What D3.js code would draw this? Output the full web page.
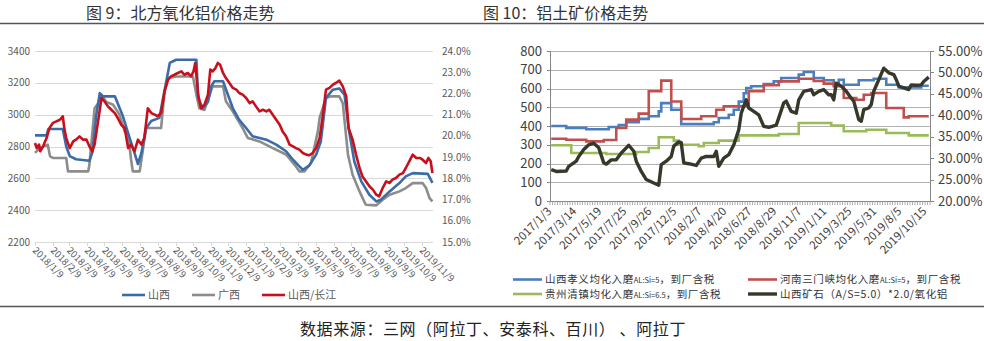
<!DOCTYPE html>
<html><head><meta charset="utf-8">
<script src="https://cdn.jsdelivr.net/npm/d3@7/dist/d3.min.js"></script>
<style>
body{margin:0;background:#fff}
svg{display:block}
text{font-family:"Noto Sans CJK SC","Noto Sans",sans-serif}
</style></head>
<body><svg id="c" width="984" height="341"></svg>
<script>
// ---------- Chart 9 data ----------
const title9 = "图 9：北方氧化铝价格走势";
const series9Names = ["山西", "广西", "山西/长江"];
const xTicks9 = ["2018/1/9","2018/2/9","2018/3/9","2018/4/9","2018/5/9","2018/6/9","2018/7/9","2018/8/9","2018/9/9","2018/10/9","2018/11/9","2018/12/9","2019/1/9","2019/2/9","2019/3/9","2019/4/9","2019/5/9","2019/6/9","2019/7/9","2019/8/9","2019/9/9","2019/10/9","2019/11/9"];
const yTicksLeft9 = [2200,2400,2600,2800,3000,3200,3400];
const yTicksRight9 = [0.15,0.16,0.17,0.18,0.19,0.20,0.21,0.22,0.23,0.24];
const shanxi9 = [["2018-01-09",2870],["2018-01-29",2870],["2018-02-01",2910],["2018-02-26",2910],["2018-03-04",2800],["2018-03-10",2740],["2018-03-21",2720],["2018-04-13",2710],["2018-04-18",2760],["2018-04-25",3000],["2018-05-01",3135],["2018-05-06",3115],["2018-05-27",3115],["2018-06-10",2990],["2018-06-21",2860],["2018-06-30",2760],["2018-07-06",2690],["2018-07-12",2760],["2018-07-20",2915],["2018-07-29",2960],["2018-08-12",2980],["2018-08-24",3210],["2018-08-30",3325],["2018-09-10",3345],["2018-10-15",3345],["2018-10-18",3105],["2018-10-26",3040],["2018-11-04",3080],["2018-11-10",3180],["2018-11-15",3210],["2018-11-30",3210],["2018-12-03",3180],["2018-12-17",3040],["2018-12-28",2968],["2019-01-09",2916],["2019-01-20",2864],["2019-02-13",2843],["2019-03-02",2812],["2019-03-19",2770],["2019-03-31",2717],["2019-04-11",2675],["2019-04-17",2654],["2019-04-28",2680],["2019-05-10",2749],["2019-05-18",2830],["2019-05-27",3105],["2019-06-08",3157],["2019-06-19",3165],["2019-06-28",3125],["2019-07-06",2895],["2019-07-15",2706],["2019-07-27",2581],["2019-08-10",2497],["2019-08-22",2455],["2019-08-30",2466],["2019-09-14",2518],["2019-10-01",2570],["2019-10-12",2612],["2019-10-24",2633],["2019-11-19",2628],["2019-11-27",2571]];
const guangxi9 = [["2018-01-09",2760],["2018-01-17",2790],["2018-01-31",2812],["2018-02-04",2738],["2018-02-09",2728],["2018-03-04",2728],["2018-03-07",2644],["2018-04-11",2644],["2018-04-13",2685],["2018-04-22",3040],["2018-04-28",3070],["2018-05-04",3126],["2018-05-12",3080],["2018-05-24",3063],["2018-06-04",3000],["2018-06-13",2895],["2018-06-19",2880],["2018-06-24",2720],["2018-06-27",2644],["2018-07-09",2644],["2018-07-15",2790],["2018-07-20",2916],["2018-08-15",2916],["2018-08-21",3147],["2018-08-27",3230],["2018-09-10",3240],["2018-10-09",3240],["2018-10-15",3126],["2018-10-20",3040],["2018-10-29",3030],["2018-11-07",3126],["2018-11-12",3178],["2018-11-30",3178],["2018-12-05",3084],["2018-12-17",3020],["2019-01-03",2916],["2019-01-12",2853],["2019-02-01",2832],["2019-02-24",2790],["2019-03-19",2750],["2019-04-05",2675],["2019-04-11",2644],["2019-04-20",2644],["2019-05-01",2696],["2019-05-13",2895],["2019-05-16",2980],["2019-05-27",3105],["2019-06-05",3115],["2019-06-19",3115],["2019-06-25",3073],["2019-07-04",2750],["2019-07-12",2623],["2019-07-24",2518],["2019-08-01",2455],["2019-08-04",2434],["2019-08-22",2430],["2019-09-02",2466],["2019-09-14",2497],["2019-10-01",2518],["2019-10-12",2539],["2019-10-24",2570],["2019-11-10",2570],["2019-11-16",2539],["2019-11-22",2476],["2019-11-27",2455]];
const changjiang9 = [["2018-01-09",2822],["2018-01-12",2790],["2018-01-16",2812],["2018-01-18",2770],["2018-01-23",2801],["2018-01-29",2853],["2018-02-03",2916],["2018-02-09",2948],["2018-02-15",2958],["2018-02-21",2968],["2018-02-26",2990],["2018-03-01",2906],["2018-03-04",2853],["2018-03-10",2790],["2018-03-16",2832],["2018-03-21",2843],["2018-03-27",2864],["2018-04-02",2843],["2018-04-08",2843],["2018-04-13",2801],["2018-04-18",2770],["2018-04-22",2812],["2018-04-28",2958],["2018-05-04",3105],["2018-05-09",3084],["2018-05-15",3052],["2018-05-21",3031],["2018-05-27",3010],["2018-06-01",2979],["2018-06-07",2937],["2018-06-13",2916],["2018-06-19",2790],["2018-06-24",2812],["2018-06-30",2770],["2018-07-06",2843],["2018-07-12",2812],["2018-07-17",2853],["2018-07-23",3040],["2018-07-29",3010],["2018-08-04",3000],["2018-08-09",2990],["2018-08-15",3010],["2018-08-21",3147],["2018-08-27",3220],["2018-09-01",3241],["2018-09-07",3251],["2018-09-13",3262],["2018-09-19",3272],["2018-09-24",3251],["2018-09-30",3262],["2018-10-06",3241],["2018-10-10",3272],["2018-10-13",3325],["2018-10-18",3126],["2018-10-23",3040],["2018-10-29",3063],["2018-11-04",3126],["2018-11-08",3283],["2018-11-12",3272],["2018-11-17",3293],["2018-11-21",3325],["2018-11-25",3314],["2018-11-30",3262],["2018-12-05",3230],["2018-12-11",3199],["2018-12-17",3168],["2018-12-23",3157],["2018-12-28",3136],["2019-01-03",3126],["2019-01-09",3105],["2019-01-15",3073],["2019-01-20",3084],["2019-01-26",3052],["2019-02-01",3021],["2019-02-07",3031],["2019-02-13",3021],["2019-02-18",3031],["2019-02-24",3000],["2019-03-02",2968],["2019-03-08",2937],["2019-03-13",2895],["2019-03-19",2864],["2019-03-25",2812],["2019-03-31",2801],["2019-04-05",2790],["2019-04-11",2780],["2019-04-17",2759],["2019-04-23",2749],["2019-04-28",2745],["2019-05-04",2759],["2019-05-10",2790],["2019-05-16",2853],["2019-05-21",2979],["2019-05-27",3157],["2019-06-02",3168],["2019-06-08",3189],["2019-06-13",3199],["2019-06-19",3214],["2019-06-25",3178],["2019-07-01",3115],["2019-07-05",2916],["2019-07-12",2843],["2019-07-18",2749],["2019-07-24",2665],["2019-07-29",2612],["2019-08-04",2581],["2019-08-10",2550],["2019-08-16",2529],["2019-08-22",2497],["2019-08-27",2487],["2019-09-02",2539],["2019-09-08",2581],["2019-09-14",2571],["2019-09-19",2592],["2019-09-25",2602],["2019-10-01",2623],["2019-10-07",2633],["2019-10-12",2665],["2019-10-18",2707],["2019-10-24",2749],["2019-10-30",2728],["2019-11-05",2728],["2019-11-10",2717],["2019-11-16",2696],["2019-11-20",2728],["2019-11-24",2707],["2019-11-27",2633]];

// ---------- Chart 10 data ----------
const title10 = "图 10：铝土矿价格走势";
const nCategories10 = 152;
const xTickLabels10 = ["2017/1/3","2017/3/14","2017/5/19","2017/7/25","2017/9/26","2017/12/5","2018/2/7","2018/4/20","2018/6/27","2018/8/29","2018/11/7","2019/1/11","2019/3/25","2019/5/31","2019/8/5","2019/10/15"];
const xTickIndex10 = [0,10,20,30,40,50,60,70,80,90,100,110,120,130,140,150];
const yTicksLeft10 = [0,100,200,300,400,500,600,700,800];
const yTicksRight10 = [0.20,0.25,0.30,0.35,0.40,0.45,0.50,0.55];
const series10Names = ["山西孝义均化入磨|AL:Si=5|，到厂含税","河南三门峡均化入磨|AL:Si=5|，到厂含税","贵州清镇均化入磨|AL:Si=6.5|，到厂含税","山西矿石（A/S=5.0）*2.0/氧化铝"];
const xiaoyi10 = [[0,400],[6,390],[14,383],[23,395],[27,405],[30,420],[35,438],[39,452],[43,478],[44,522],[48,487],[52,410],[65,420],[67,443],[71,460],[73,487],[75,530],[77,575],[78,603],[80,612],[85,624],[89,638],[92,656],[99,674],[101,688],[105,656],[109,644],[113,620],[115,647],[117,620],[123,644],[129,652],[134,620],[139,606],[148,615],[151,615]];
const sanmenxia10 = [[0,332],[6,327],[14,318],[21,325],[26,389],[30,434],[35,466],[39,585],[44,642],[48,531],[52,437],[60,452],[66,487],[69,505],[79,585],[85,617],[91,638],[99,652],[105,640],[109,626],[113,612],[117,549],[122,540],[125,567],[128,576],[134,496],[141,446],[143,452],[151,452]];
const qingzhen10 = [[0,297],[8,256],[22,251],[34,261],[39,283],[43,340],[49,322],[51,300],[59,292],[61,309],[67,322],[75,350],[91,357],[99,416],[112,403],[117,372],[126,380],[134,363],[143,350],[151,350]];
const ratio10 = [[0,27.3],[2,26.9],[6,27.0],[7,28.1],[10,29.3],[11,30.4],[13,32.0],[15,33.1],[17,33.5],[19,32.4],[21,28.9],[22,28.6],[24,29.6],[26,29.6],[28,31.2],[30,32.4],[31,33.0],[33,31.6],[34,29.3],[36,26.9],[38,25.0],[41,24.2],[43,23.7],[44,28.5],[46,29.3],[48,30.4],[49,32.8],[51,33.8],[52,33.6],[53,28.9],[55,28.7],[58,28.3],[60,30.0],[62,30.4],[65,30.4],[66,31.6],[67,28.1],[69,30.0],[71,30.8],[73,33.1],[75,36.6],[76,40.5],[77,42.1],[78,43.6],[79,41.7],[81,40.9],[83,40.1],[85,37.4],[87,37.2],[90,37.7],[91,39.4],[93,42.9],[94,43.3],[96,40.9],[98,40.5],[99,43.6],[101,45.6],[104,46.0],[105,44.8],[107,45.6],[109,46.0],[111,44.8],[112,44.8],[113,43.6],[114,47.5],[116,46.8],[118,45.6],[120,44.0],[121,43.3],[123,39.0],[124,38.6],[125,41.3],[127,41.7],[128,42.5],[129,45.6],[131,48.3],[133,51.0],[135,49.9],[137,49.5],[138,48.3],[139,46.8],[141,46.4],[143,46.0],[144,47.1],[146,47.0],[148,47.1],[149,47.9],[151,48.9]];

const sourceText = "数据来源：三网（阿拉丁、安泰科、百川） 、阿拉丁";

// ---------- Drawing ----------
const svg = d3.select("#c");
const parse = d3.timeParse("%Y-%m-%d");
const parseTick = d3.timeParse("%Y/%m/%d");

svg.append("line").attr("x1",0).attr("x2",984).attr("y1",23.5).attr("y2",23.5).attr("stroke","#555").attr("stroke-width",1.6);
svg.append("line").attr("x1",0).attr("x2",984).attr("y1",306.5).attr("y2",306.5).attr("stroke","#555").attr("stroke-width",1.6);
svg.append("text").attr("x",86).attr("y",19).attr("font-size",16).attr("fill","#333").text(title9);
svg.append("text").attr("x",483).attr("y",19).attr("font-size",16).attr("fill","#333").text(title10);
svg.append("text").attr("x",493).attr("y",335).attr("text-anchor","middle").attr("font-size",16).attr("letter-spacing",0.6).attr("fill","#222").text(sourceText);

// ===== Chart 9 =====
const g9 = svg.append("g");
const x9 = d3.scaleTime().domain([parse("2018-01-09"), parse("2019-11-28")]).range([35,433]);
const yL9 = d3.scaleLinear().domain([2200,3400]).range([242,51]);
const yR9 = d3.scaleLinear().domain([0.15,0.24]).range([242,51]);

g9.append("g").selectAll("line").data(yTicksLeft9).join("line")
  .attr("x1",35).attr("x2",433).attr("y1",d=>Math.round(yL9(d))+0.5).attr("y2",d=>Math.round(yL9(d))+0.5)
  .attr("stroke","#d9d9d9").attr("stroke-width",1);
g9.append("g").selectAll("text").data(yTicksLeft9).join("text")
  .attr("x",30).attr("y",d=>yL9(d)+3.5).attr("text-anchor","end").attr("font-size",10).attr("fill","#595959").text(d=>d);
g9.append("g").selectAll("text").data(yTicksRight9).join("text")
  .attr("x",442).attr("y",d=>yR9(d)+3.5).attr("font-size",10).attr("fill","#595959").text(d=>d3.format(".1%")(d));
const tickDates9 = xTicks9.map(parseTick);
g9.append("g").selectAll("line").data(tickDates9).join("line")
  .attr("x1",d=>Math.round(x9(d))+0.5).attr("x2",d=>Math.round(x9(d))+0.5).attr("y1",242).attr("y2",246)
  .attr("stroke","#d9d9d9");
g9.append("g").selectAll("text").data(xTicks9).join("text")
  .attr("transform",d=>`translate(${x9(parseTick(d))-3},251) rotate(45)`)
  .attr("font-size",9.5).attr("fill","#595959").text(d=>d);

const line9 = d3.line().x(d=>x9(parse(d[0]))).y(d=>yL9(d[1]));
const cols9 = ["#3c6ca8","#8c8c8c","#c8101c"];
[[guangxi9,cols9[1]],[shanxi9,cols9[0]],[changjiang9,cols9[2]]].forEach(([s,c])=>{
  g9.append("path").datum(s).attr("d",line9).attr("fill","none").attr("stroke",c).attr("stroke-width",2.6).attr("stroke-linejoin","round");
});
const leg9x = [122,192,262];
series9Names.forEach((n,i)=>{
  g9.append("line").attr("x1",leg9x[i]).attr("x2",leg9x[i]+23).attr("y1",295).attr("y2",295).attr("stroke",cols9[i]).attr("stroke-width",2.6);
  g9.append("text").attr("x",leg9x[i]+26).attr("y",299).attr("font-size",11).attr("fill","#595959").text(n);
});

// ===== Chart 10 =====
const g10 = svg.append("g");
const x10 = d3.scaleLinear().domain([0,nCategories10]).range([550,930]);
const yL10 = d3.scaleLinear().domain([0,800]).range([201,51]);
const yR10 = d3.scaleLinear().domain([0.20,0.55]).range([201,51]);
const cx = i => x10(i+0.5);

g10.append("g").selectAll("line").data(yTicksLeft10.slice(1)).join("line")
  .attr("x1",550).attr("x2",930).attr("y1",d=>Math.round(yL10(d))+0.5).attr("y2",d=>Math.round(yL10(d))+0.5)
  .attr("stroke","#b3b3b3");
g10.append("line").attr("x1",550.5).attr("x2",550.5).attr("y1",51).attr("y2",201).attr("stroke","#868686");
g10.append("line").attr("x1",930.5).attr("x2",930.5).attr("y1",51).attr("y2",201).attr("stroke","#868686");
g10.append("line").attr("x1",547).attr("x2",934).attr("y1",201.5).attr("y2",201.5).attr("stroke","#868686");
g10.append("g").selectAll("line").data(yTicksLeft10).join("line")
  .attr("x1",547).attr("x2",550).attr("y1",d=>Math.round(yL10(d))+0.5).attr("y2",d=>Math.round(yL10(d))+0.5).attr("stroke","#868686");
g10.append("g").selectAll("line").data(yTicksRight10).join("line")
  .attr("x1",931).attr("x2",934).attr("y1",d=>Math.round(yR10(d))+0.5).attr("y2",d=>Math.round(yR10(d))+0.5).attr("stroke","#868686");
g10.append("g").selectAll("line").data(d3.range(nCategories10+1)).join("line")
  .attr("x1",d=>x10(d)).attr("x2",d=>x10(d)).attr("y1",201).attr("y2",205).attr("stroke","#9a9a9a").attr("stroke-width",0.8);
g10.append("g").selectAll("text").data(yTicksLeft10).join("text")
  .attr("x",542).attr("y",d=>yL10(d)+4.5).attr("text-anchor","end").attr("font-size",13).attr("font-family","Lato, 'Open Sans', sans-serif").attr("fill","#404040").text(d=>d);
g10.append("g").selectAll("text").data(yTicksRight10).join("text")
  .attr("x",938).attr("y",d=>yR10(d)+4.5).attr("font-size",13).attr("font-family","Lato, 'Open Sans', sans-serif").attr("fill","#404040").text(d=>d3.format(".2%")(d));
g10.append("g").selectAll("text").data(xTickLabels10).join("text")
  .attr("transform",(d,i)=>`translate(${cx(xTickIndex10[i])+1},212) rotate(-45)`)
  .attr("text-anchor","end").attr("font-size",11.5).attr("font-family","Lato, 'Open Sans', sans-serif").attr("fill","#404040").text(d=>d);

const cols10 = ["#4a7ebf","#c0504d","#9bbb59","#35382a"];
const step10 = d3.line().curve(d3.curveStepAfter).x(d=>cx(d[0])).y(d=>yL10(d[1]));
[xiaoyi10, sanmenxia10, qingzhen10].forEach((s,i)=>{
  g10.append("path").datum(s).attr("d",step10).attr("fill","none").attr("stroke",cols10[i]).attr("stroke-width",2.6);
});
const rline10 = d3.line().x(d=>cx(d[0])).y(d=>yR10(d[1]/100));
g10.append("path").datum(ratio10).attr("d",rline10).attr("fill","none").attr("stroke",cols10[3]).attr("stroke-width",3.4).attr("stroke-linejoin","round");

const leg10 = [[513,279.5],[748,279.5],[513,294],[748,294]];
series10Names.forEach((n,i)=>{
  const [lx,ly] = leg10[i];
  g10.append("line").attr("x1",lx).attr("x2",lx+29).attr("y1",ly).attr("y2",ly).attr("stroke",cols10[i]).attr("stroke-width",i===3?3.4:2.6);
  const t = g10.append("text").attr("x",lx+32).attr("y",ly+3.5).attr("font-size",10.5).attr("letter-spacing",0.6).attr("fill","#333");
  n.split("|").forEach((p,j)=>{
    t.append("tspan").attr("font-size", j===1?7.5:10.5).attr("letter-spacing", j===1?0:0.6).text(p);
  });
});
</script></body></html>
